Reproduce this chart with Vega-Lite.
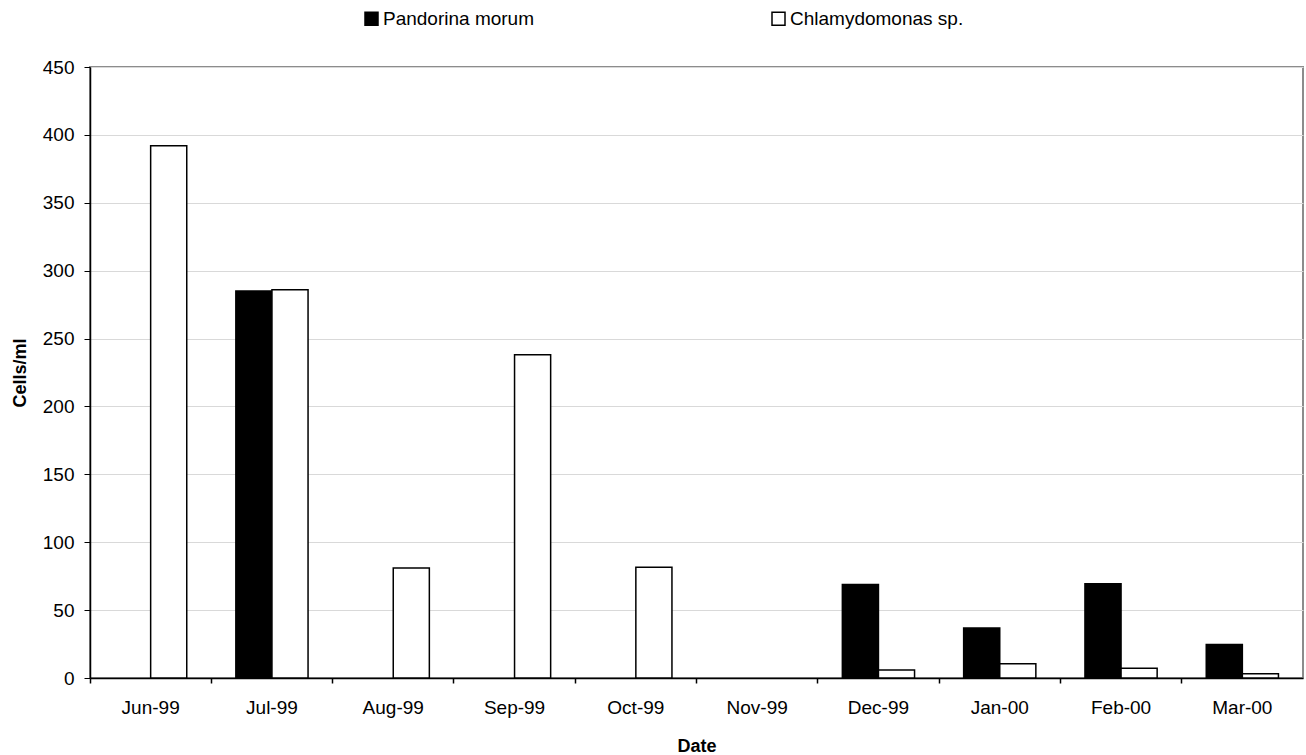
{
  "$schema": "https://vega.github.io/schema/vega-lite/v6.json",
  "width": 1213,
  "height": 611,
  "autosize": {"type": "none"},
  "padding": {"left": 90, "top": 67, "right": 3, "bottom": 77},
  "background": "white",
  "config": {
    "font": "Liberation Sans",
    "view": {"stroke": "#8c8c8c", "strokeWidth": 2},
    "axis": {"labelFont": "Liberation Sans", "titleFont": "Liberation Sans", "labelColor": "black", "titleColor": "black"}
  },
  "data": {
    "values": [
      {"date": "Jun-99", "species": "Pandorina morum", "cells": 0},
      {"date": "Jun-99", "species": "Chlamydomonas sp.", "cells": 392},
      {"date": "Jul-99", "species": "Pandorina morum", "cells": 285},
      {"date": "Jul-99", "species": "Chlamydomonas sp.", "cells": 286},
      {"date": "Aug-99", "species": "Pandorina morum", "cells": 0},
      {"date": "Aug-99", "species": "Chlamydomonas sp.", "cells": 81},
      {"date": "Sep-99", "species": "Pandorina morum", "cells": 0},
      {"date": "Sep-99", "species": "Chlamydomonas sp.", "cells": 238},
      {"date": "Oct-99", "species": "Pandorina morum", "cells": 0},
      {"date": "Oct-99", "species": "Chlamydomonas sp.", "cells": 81.5},
      {"date": "Nov-99", "species": "Pandorina morum", "cells": 0},
      {"date": "Nov-99", "species": "Chlamydomonas sp.", "cells": 0},
      {"date": "Dec-99", "species": "Pandorina morum", "cells": 68.9},
      {"date": "Dec-99", "species": "Chlamydomonas sp.", "cells": 5.8},
      {"date": "Jan-00", "species": "Pandorina morum", "cells": 36.8},
      {"date": "Jan-00", "species": "Chlamydomonas sp.", "cells": 10.5},
      {"date": "Feb-00", "species": "Pandorina morum", "cells": 69.4},
      {"date": "Feb-00", "species": "Chlamydomonas sp.", "cells": 7.1},
      {"date": "Mar-00", "species": "Pandorina morum", "cells": 24.7},
      {"date": "Mar-00", "species": "Chlamydomonas sp.", "cells": 3.2}
    ]
  },
  "layer": [
    {
      "mark": {"type": "bar", "stroke": "black", "strokeWidth": 1.5},
      "encoding": {
        "x": {
          "field": "date", "type": "nominal", "sort": null,
          "scale": {"paddingInner": 0, "paddingOuter": 0},
          "axis": {"orient": "bottom", "title": "Date", "titleFontSize": 18, "titleFontWeight": "bold", "titlePadding": 20,
                   "labelFontSize": 19, "labelAngle": 0, "labelPadding": 20, "ticks": false, "domain": true, "domainColor": "black", "domainWidth": 1.5, "grid": false}
        },
        "xOffset": {"field": "species", "type": "nominal", "sort": ["Pandorina morum", "Chlamydomonas sp."],
                    "scale": {"paddingInner": 0, "paddingOuter": 0.68}},
        "y": {
          "field": "cells", "type": "quantitative",
          "scale": {"domain": [0, 450]},
          "axis": {"values": [0, 50, 100, 150, 200, 250, 300, 350, 400, 450], "title": "Cells/ml", "titleFontSize": 18, "titleFontWeight": "bold",
                   "labelFontSize": 19, "labelPadding": 10, "tickSize": 6, "tickColor": "black", "domainColor": "black", "domainWidth": 1.5,
                   "gridColor": "#d9d9d9", "gridWidth": 1, "titlePadding": 13}
        },
        "strokeOpacity": {"condition": {"test": "datum.cells <= 0", "value": 0}, "value": 1},
        "fill": {
          "field": "species", "type": "nominal",
          "scale": {"domain": ["Pandorina morum", "Chlamydomonas sp."], "range": ["black", "white"]},
          "legend": {"title": null, "orient": "none", "legendX": 272, "legendY": -58, "direction": "horizontal", "columns": 2,
                     "symbolType": "square", "symbolSize": 169, "symbolStrokeColor": "black", "symbolStrokeWidth": 1.5,
                     "labelFontSize": 19, "labelOffset": 2, "labelLimit": 400, "columnPadding": 234, "padding": 0, "labelColor": "black"}
        }
      }
    },
    {
      "mark": {"type": "bar", "opacity": 0},
      "encoding": {
        "x": {
          "field": "date", "type": "nominal", "sort": null,
          "axis": {"orient": "bottom", "title": null, "labels": false, "bandPosition": 0, "ticks": true, "tickSize": 5, "tickColor": "black", "tickWidth": 1.5, "domain": false, "grid": false}
        },
        "y": {"field": "cells", "type": "quantitative"}
      }
    }
  ],
  "resolve": {"axis": {"x": "independent"}}
}
